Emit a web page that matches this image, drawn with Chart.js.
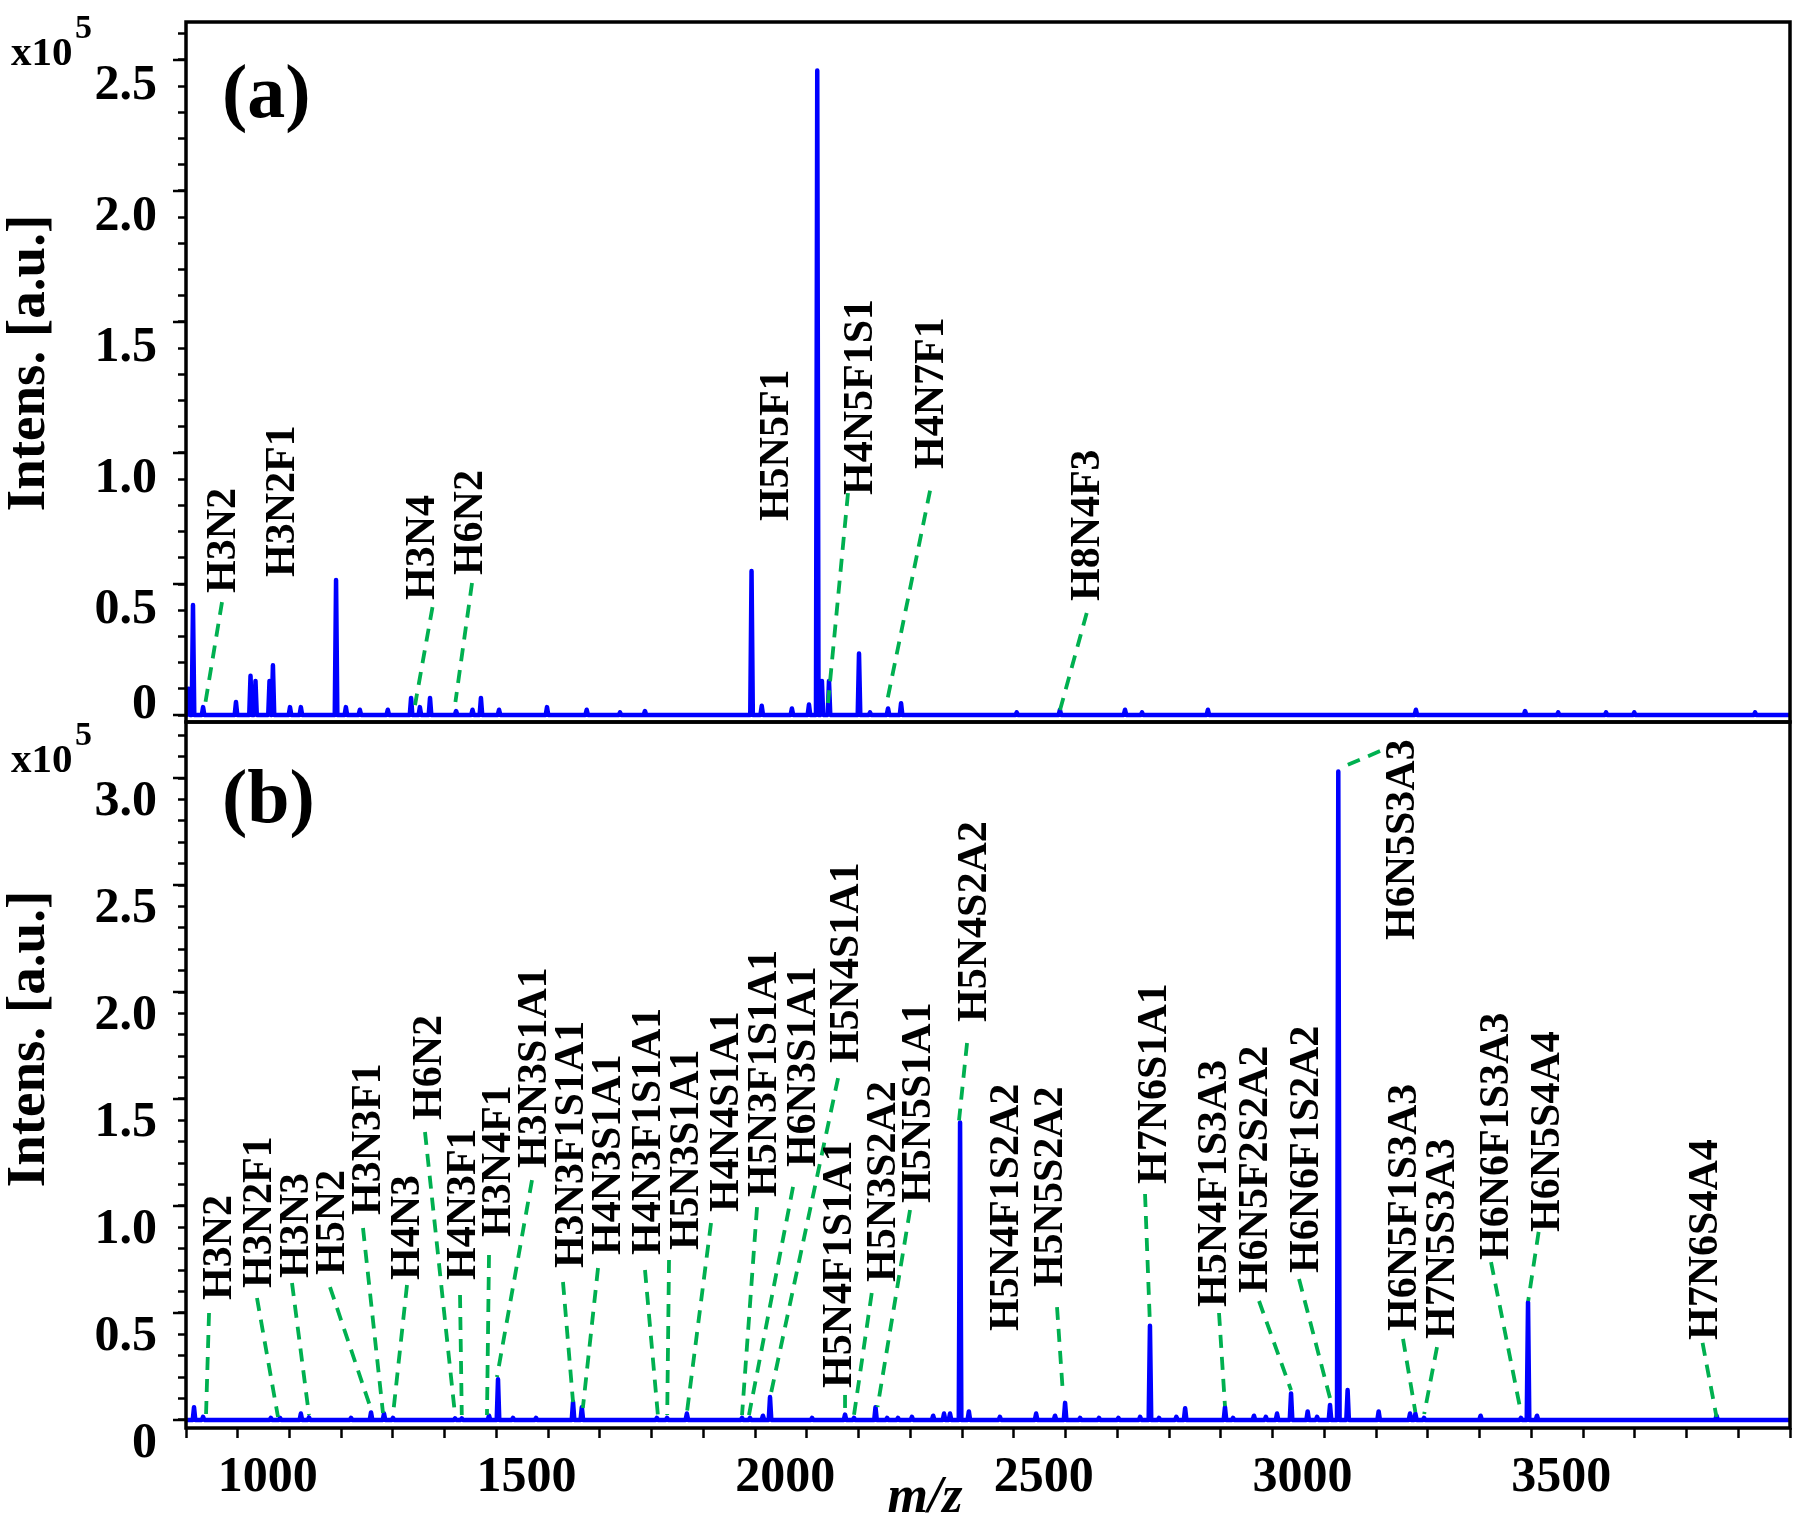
<!DOCTYPE html>
<html>
<head>
<meta charset="utf-8">
<script src="https://cdn.jsdelivr.net/npm/chart.js@4.4.1/dist/chart.umd.min.js"></script>
<style>
  html, body { margin: 0; padding: 0; background: #fff; }
  #wrap { position: relative; width: 1800px; height: 1524px; overflow: hidden; }
  #chartA { position: absolute; left: 0; top: 0; }
  #chartB { position: absolute; left: 0; top: 700px; }
</style>
</head>
<body>
<div id="wrap">
  <canvas id="chartA" width="1800" height="760"></canvas>
  <canvas id="chartB" width="1800" height="824"></canvas>
</div>
<script>
// m/z range and tick labels
const mzMin = 900;
const mzMax = 4000;
const xTickLabels = [1000, 1500, 2000, 2500, 3000, 3500];

// panel (a) spectrum peaks, intensity in 1e5
const peakMzA = [905, 913.5, 933, 996.6, 1024.7, 1034.3, 1061.4, 1068, 1101, 1122, 1190, 1209, 1236, 1290, 1335, 1352, 1371.6, 1422, 1453.7, 1470, 1505, 1597.7, 1674.4, 1738.8, 1787, 1993, 2012.7, 2071, 2104, 2120, 2129, 2142.7, 2200.7, 2222, 2256.8, 2282, 2505.5, 2589, 2714.8, 2747.7, 2875, 3277, 3488, 3552, 3644.5, 3699, 3932.5];
const peakIntA = [0.10, 0.42, 0.03, 0.05, 0.15, 0.13, 0.13, 0.19, 0.03, 0.03, 0.515, 0.03, 0.02, 0.02, 0.065, 0.03, 0.065, 0.015, 0.02, 0.065, 0.02, 0.03, 0.02, 0.01, 0.015, 0.55, 0.035, 0.025, 0.04, 2.46, 0.13, 0.13, 0.235, 0.01, 0.025, 0.045, 0.01, 0.02, 0.02, 0.01, 0.02, 0.02, 0.015, 0.01, 0.01, 0.01, 0.01];

// panel (b) spectrum peaks
const peakMzB = [915.5, 933, 1064, 1081.7, 1122, 1137.7, 1219, 1257.6, 1282.7, 1300, 1420, 1433, 1485.6, 1503, 1532, 1576.5, 1648, 1665, 1810, 1829.7, 1868, 1974.6, 1990, 2015, 2028.7, 2110, 2173.7, 2191, 2232.6, 2255, 2276, 2303, 2344, 2365, 2376.6, 2396, 2413, 2473, 2543, 2579.5, 2599, 2628, 2664.5, 2702, 2744, 2763, 2780.5, 2814, 2831, 2908, 2923.6, 2964, 2987, 3008.6, 3035.7, 3067.8, 3086, 3111, 3127, 3145, 3205, 3265.6, 3276, 3292.7, 3402, 3480, 3493.7, 3511, 3858];
const peakIntB = [0.06, 0.015, 0.01, 0.01, 0.03, 0.012, 0.01, 0.035, 0.03, 0.01, 0.008, 0.008, 0.02, 0.19, 0.01, 0.01, 0.085, 0.06, 0.01, 0.01, 0.03, 0.01, 0.01, 0.02, 0.107, 0.01, 0.025, 0.01, 0.06, 0.01, 0.01, 0.015, 0.02, 0.03, 0.03, 1.39, 0.04, 0.015, 0.03, 0.02, 0.08, 0.01, 0.01, 0.01, 0.015, 0.44, 0.01, 0.015, 0.055, 0.06, 0.01, 0.02, 0.015, 0.03, 0.124, 0.04, 0.015, 0.07, 3.03, 0.14, 0.04, 0.03, 0.03, 0.01, 0.02, 0.01, 0.55, 0.02, 0.02];

// panel (a) glycan labels: label foot (m/z, intensity) and leader line ends
const glycanA = ['H3N2', 'H3N2F1', 'H3N4', 'H6N2', 'H5N5F1', 'H4N5F1S1', 'H4N7F1', 'H8N4F3'];
const labelMzA = [967.6, 1082.4, 1352.3, 1445, 2036.5, 2197.8, 2336, 2637.5];
const labelIntA = [0.466, 0.527, 0.439, 0.534, 0.740, 0.840, 0.939, 0.435];
const leadFromMzA = [969.6, null, 1376.4, 1452.8, null, 2179.4, 2338, 2640.8];
const leadFromIntA = [0.431, null, 0.412, 0.504, null, 0.847, 0.856, 0.389];
const leadToMzA = [937.7, null, 1342.6, 1420.7, null, 2140.8, 2254.3, 2589.2];
const leadToIntA = [0.05, null, 0.038, 0.05, null, 0.046, 0.046, 0.019];

// panel (b) glycan labels
const glycanB = ['H3N2', 'H3N2F1', 'H3N3', 'H5N2', 'H3N3F1', 'H4N3', 'H6N2', 'H4N3F1', 'H3N4F1', 'H3N3S1A1', 'H3N3F1S1A1', 'H4N3S1A1', 'H4N3F1S1A1', 'H5N3S1A1', 'H4N4S1A1', 'H5N3F1S1A1', 'H6N3S1A1', 'H5N4S1A1', 'H5N4F1S1A1', 'H5N3S2A2', 'H5N5S1A1', 'H5N4S2A2', 'H5N4F1S2A2', 'H5N5S2A2', 'H7N6S1A1', 'H5N4F1S3A3', 'H6N5F2S2A2', 'H6N6F1S2A2', 'H6N5S3A3', 'H6N5F1S3A3', 'H7N5S3A3', 'H6N6F1S3A3', 'H6N5S4A4', 'H7N6S4A4'];
const labelMzB = [959.3, 1037.2, 1108.7, 1178.3, 1247.9, 1323.3, 1365.8, 1431.5, 1499.1, 1568.7, 1640.2, 1711.7, 1788.1, 1862.5, 1939.8, 2013.3, 2088.6, 2171.7, 2158.2, 2243.5, 2310.9, 2419.2, 2480, 2566, 2767, 2883, 2962.2, 3060.8, 3246.3, 3250.2, 3323.6, 3427.2, 3525.8, 3832];
const labelIntB = [0.561, 0.617, 0.664, 0.678, 0.958, 0.654, 1.402, 0.654, 0.855, 1.178, 0.710, 0.771, 0.771, 0.794, 0.972, 1.042, 1.182, 1.668, 0.150, 0.645, 1.014, 1.860, 0.416, 0.621, 1.103, 0.528, 0.593, 0.687, 2.243, 0.416, 0.379, 0.748, 0.879, 0.374];
const leadFromMzB = [944.5, 1037.2, 1104.9, 1178.3, 1242.1, 1327.1, 1361.9, 1429.6, 1485.6, 1568.7, 1628.6, 1696.3, 1787.1, 1833.5, 1914.7, 2003.6, 2073.2, 2160.2, 2173.7, 2225.3, 2299.3, 2409.5, null, 2583.4, 2753.5, 2896.5, 2973.8, 3051.1, 3207.7, 3252.1, 3317.8, 3422.2, 3514.2, 3831.0];
const leadFromIntB = [0.5, 0.570, 0.640, 0.621, 0.897, 0.631, 1.346, 0.584, 0.771, 1.121, 0.645, 0.710, 0.701, 0.748, 0.921, 0.995, 1.089, 1.598, 0.117, 0.593, 0.981, 1.762, null, 0.528, 1.056, 0.5, 0.556, 0.659, 3.126, 0.379, 0.341, 0.738, 0.879, 0.360];
const leadToMzB = [938.7, 1077.8, 1137.7, 1259.5, 1280.7, 1300, 1420, 1433, 1481.7, 1501, 1648, 1667, 1812, 1830, 1868, 1974.6, 1988, 2029, 2173.7, 2191, 2236.5, 2394, null, 2595, 2763, 2908, 3035.7, 3113, 3130, 3276, 3293, 3480, 3494, 3858];
const leadToIntB = [0.023, 0.014, 0.023, 0.037, 0.033, 0.023, 0.023, 0.023, 0.023, 0.201, 0.084, 0.056, 0.023, 0.023, 0.033, 0.023, 0.023, 0.107, 0.023, 0.023, 0.061, 1.40, null, 0.117, 0.444, 0.065, 0.140, 0.084, 3.046, 0.037, 0.028, 0.037, 0.556, 0.014];

const serif = '"Liberation Serif", "Times New Roman", serif';
Chart.defaults.font.family = serif;
Chart.defaults.color = '#000';

// stick peaks -> narrow line profile on a flat baseline
const spectrum = (mz, inten) => {
    const pts = [{ x: mzMin, y: 0 }];
    mz.forEach((m, i) => {
        pts.push({ x: m - 2.5, y: 0 }, { x: m, y: inten[i] }, { x: m + 2.5, y: 0 });
    });
    pts.push({ x: mzMax, y: 0 });
    return pts;
};

const yTickLabel = (hideZero) => (v) => {
    const t = Math.round(v * 10);
    if (t % 5 !== 0) return '';
    if (t === 0) return hideZero ? '' : '0';
    return (t / 10).toFixed(1);
};

// box round the plot area, plus longer marks at the labelled y ticks
const framePlugin = {
    id: 'frame',
    afterDraw(chart) {
        const { ctx, chartArea: a } = chart;
        const ys = chart.scales.y;
        ctx.save();
        ctx.strokeStyle = '#000';
        ctx.lineWidth = 2.5;
        ys.ticks.forEach((t) => {
            if (Math.round(t.value * 10) % 5 !== 0) return;
            const py = ys.getPixelForValue(t.value);
            ctx.beginPath();
            ctx.moveTo(a.left - 13, py);
            ctx.lineTo(a.left, py);
            ctx.stroke();
        });
        ctx.lineWidth = 3.5;
        ctx.strokeRect(a.left, a.top, a.right - a.left, a.bottom - a.top);
        ctx.restore();
    }
};

const decorPlugin = (cfg) => ({
    id: 'decor',
    afterDatasetsDraw(chart) {
        const { ctx } = chart;
        const xs = chart.scales.x, ys = chart.scales.y;
        ctx.save();
        // leader lines
        ctx.strokeStyle = '#00b050';
        ctx.lineWidth = 3.8;
        ctx.setLineDash([13, 9]);
        cfg.names.forEach((n, i) => {
            if (cfg.fromMz[i] === null) return;
            ctx.beginPath();
            ctx.moveTo(xs.getPixelForValue(cfg.fromMz[i]), ys.getPixelForValue(cfg.fromInt[i]));
            ctx.lineTo(xs.getPixelForValue(cfg.toMz[i]), ys.getPixelForValue(cfg.toInt[i]));
            ctx.stroke();
        });
        ctx.setLineDash([]);
        // rotated glycan names
        ctx.fillStyle = '#000';
        ctx.font = 'bold 42px ' + serif;
        ctx.textAlign = 'left';
        ctx.textBaseline = 'alphabetic';
        cfg.names.forEach((n, i) => {
            ctx.save();
            ctx.translate(xs.getPixelForValue(cfg.labelMz[i]), ys.getPixelForValue(cfg.labelInt[i]));
            ctx.rotate(-Math.PI / 2);
            ctx.fillText(n, 0, 14);
            ctx.restore();
        });
        ctx.restore();
    },
    afterDraw(chart) {
        const { ctx } = chart;
        const ys = chart.scales.y;
        ctx.save();
        ctx.fillStyle = '#000';
        ctx.textBaseline = 'alphabetic';
        ctx.textAlign = 'left';
        ctx.font = 'bold 76px ' + serif;
        ctx.fillText(cfg.panel, 222, cfg.panelY);
        ctx.font = 'bold 41px ' + serif;
        ctx.fillText('x10', 11, cfg.expY);
        ctx.font = 'bold 34px ' + serif;
        ctx.fillText('5', 75, cfg.expY - 27);
        // axis title
        ctx.save();
        ctx.translate(30, cfg.titleY);
        ctx.rotate(-Math.PI / 2);
        ctx.textAlign = 'center';
        ctx.textBaseline = 'middle';
        ctx.font = 'bold 55px ' + serif;
        ctx.fillText('Intens. [a.u.]', 0, 0);
        ctx.restore();
        if (cfg.zeroLabel) {
            ctx.font = 'bold 50px ' + serif;
            ctx.textAlign = 'right';
            ctx.textBaseline = 'middle';
            ctx.fillText('0', 157, ys.getPixelForValue(0) - 10);
        }
        if (cfg.xTitle) {
            ctx.font = 'italic bold 52px ' + serif;
            ctx.textAlign = 'center';
            ctx.textBaseline = 'alphabetic';
            ctx.fillText('m/z', 925, 812);
        }
        ctx.restore();
    }
});

const yScale = (min, max, offset, hideZero) => ({
    type: 'linear',
    min, max,
    afterFit: (s) => { s.width = 186; s.paddingTop = 0; s.paddingBottom = 0; },
    border: { display: false },
    grid: { drawOnChartArea: false, drawTicks: true, tickLength: 8, tickWidth: 2.5, tickColor: '#000' },
    ticks: {
        stepSize: 0.1, includeBounds: false, autoSkip: false,
        padding: 21, labelOffset: offset,
        font: { size: 50, weight: 'bold' }, color: '#000',
        callback: yTickLabel(hideZero)
    }
});

const lineSet = (data) => ({
    data, borderColor: '#0000ff', borderWidth: 4.5, pointRadius: 0,
    tension: 0, borderJoinStyle: 'round', fill: false
});

new Chart(document.getElementById('chartA'), {
    type: 'line',
    data: { datasets: [lineSet(spectrum(peakMzA, peakIntA))] },
    options: {
        responsive: false, animation: false, devicePixelRatio: 1,
        layout: { padding: { top: 22, right: 10, bottom: 38, left: 0 } },
        plugins: { legend: { display: false }, tooltip: { enabled: false } },
        scales: {
            x: { type: 'linear', min: mzMin, max: mzMax, display: false },
            y: yScale(-0.0267, 2.645, 26, true)
        }
    },
    plugins: [framePlugin, decorPlugin({
        names: glycanA, labelMz: labelMzA, labelInt: labelIntA,
        fromMz: leadFromMzA, fromInt: leadFromIntA, toMz: leadToMzA, toInt: leadToIntA,
        panel: '(a)', panelY: 117, expY: 65, titleY: 363, zeroLabel: true, xTitle: false
    })]
});

new Chart(document.getElementById('chartB'), {
    type: 'line',
    data: { datasets: [lineSet(spectrum(peakMzB, peakIntB))] },
    options: {
        responsive: false, animation: false, devicePixelRatio: 1,
        layout: { padding: { top: 22, right: 10, bottom: 0, left: 0 } },
        plugins: { legend: { display: false }, tooltip: { enabled: false } },
        scales: {
            x: {
                type: 'linear', min: mzMin, max: mzMax,
                afterFit: (s) => { s.height = 96; s.paddingLeft = 0; s.paddingRight = 0; },
                border: { display: false },
                grid: { drawOnChartArea: false, drawTicks: true, tickLength: 10, tickWidth: 2.5, tickColor: '#000' },
                ticks: {
                    stepSize: 100, autoSkip: false, maxRotation: 0, minRotation: 0,
                    padding: 10, labelOffset: 30, font: { size: 50, weight: 'bold' }, color: '#000',
                    callback: (v) => xTickLabels.includes(Math.round(v)) ? String(Math.round(v)) : ''
                }
            },
            y: yScale(-0.0374, 3.2617, 24, false)
        }
    },
    plugins: [framePlugin, decorPlugin({
        names: glycanB, labelMz: labelMzB, labelInt: labelIntB,
        fromMz: leadFromMzB, fromInt: leadFromIntB, toMz: leadToMzB, toInt: leadToIntB,
        panel: '(b)', panelY: 122, expY: 72, titleY: 339, zeroLabel: false, xTitle: true
    })]
});
</script>
</body>
</html>
